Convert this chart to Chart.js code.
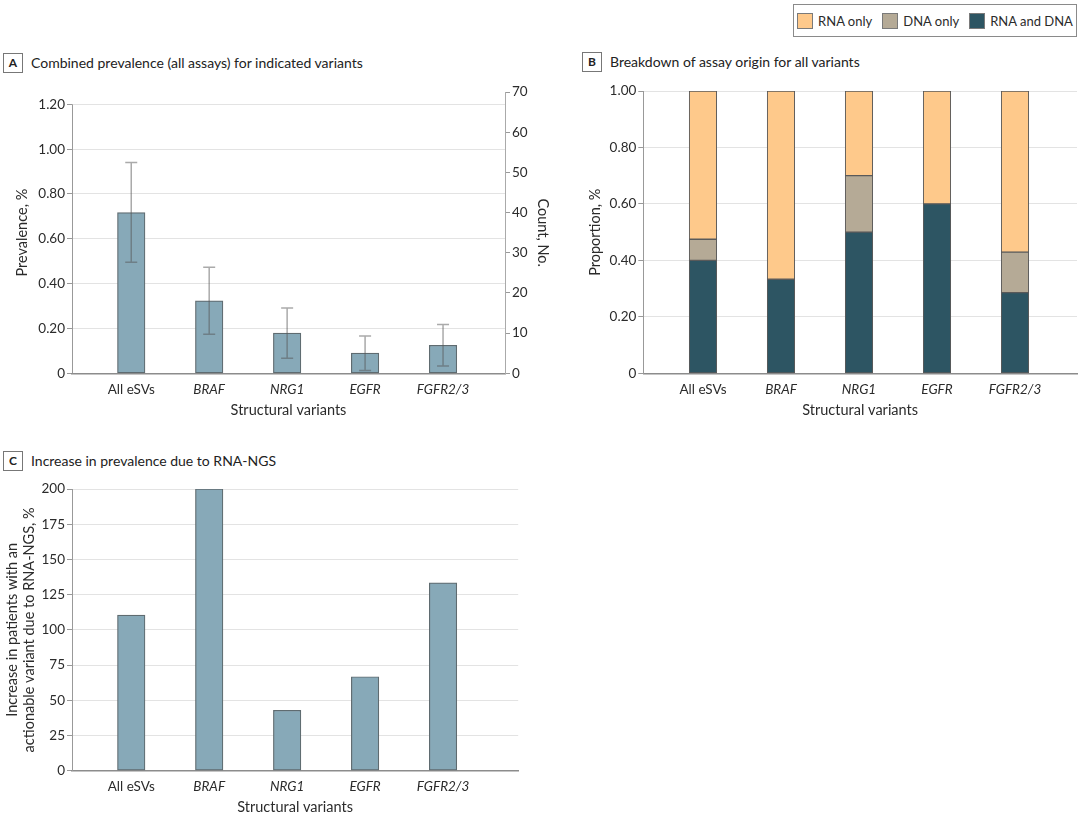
<!DOCTYPE html>
<html>
<head>
<meta charset="utf-8">
<script src="https://cdn.jsdelivr.net/npm/chart.js@4.4.1/dist/chart.umd.min.js"></script>
<style>
  body { margin: 0; background: #fff; width: 1080px; height: 816px; overflow: hidden; position: relative; font-family: Lato, sans-serif; color: #222; }
  canvas { position: absolute; }
  .head { position: absolute; font-size: 14px; line-height: 20px; white-space: nowrap; }
  .head b { display: inline-block; width: 18px; height: 18px; border: 1px solid #777; text-align: center; font-size: 12px; line-height: 18px; margin-right: 8px; vertical-align: top; }
  #legend { position: absolute; left: 793px; top: 4px; width: 282px; height: 31px; border: 1px solid #8a8a8a; display: flex; align-items: center; justify-content: center; font-size: 13px; white-space: nowrap; color: #2b2b2b; }
  #legend span.sw { display: inline-block; flex: none; width: 14px; height: 14px; border: 1px solid #7a7a7a; margin-right: 5px; }
  #legend span.it { display: flex; align-items: center; margin: 0 5px; }
</style>
</head>
<body>
<div class="head" style="left:3px;top:53px"><b>A</b>Combined prevalence (all assays) for indicated variants</div>
<div class="head" style="left:582px;top:52px"><b>B</b>Breakdown of assay origin for all variants</div>
<div class="head" style="left:3px;top:451px"><b>C</b>Increase in prevalence due to RNA-NGS</div>
<div id="legend"></div>
<canvas id="chart-a" width="560" height="419" style="left:0;top:0"></canvas>
<canvas id="chart-b" width="540" height="419" style="left:540px;top:0"></canvas>
<canvas id="chart-c" width="540" height="386" style="left:0;top:430px"></canvas>
<script>
const categories = ['All eSVs', 'BRAF', 'NRG1', 'EGFR', 'FGFR2/3']

// panel A: prevalence, % with 95% CI
const prevalence = [0.717, 0.323, 0.179, 0.090, 0.125]
const prevalenceLow = [0.495, 0.174, 0.067, 0.012, 0.033]
const prevalenceHigh = [0.941, 0.473, 0.291, 0.166, 0.218]
const prevalenceTicks = [0, 0.2, 0.4, 0.6, 0.8, 1.0, 1.2]
const countTicks = [0, 10, 20, 30, 40, 50, 60, 70]

// panel B: proportion by assay origin
const rnaAndDna = [0.400, 0.333, 0.500, 0.600, 0.286]
const dnaOnly = [0.075, 0, 0.200, 0, 0.143]
const rnaOnly = [0.525, 0.667, 0.300, 0.400, 0.571]
const proportionTicks = [0, 0.2, 0.4, 0.6, 0.8, 1.0]

// panel C: increase due to RNA-NGS, %
const increase = [110.5, 200, 42.9, 66.7, 133.3]
const increaseTicks = [0, 25, 50, 75, 100, 125, 150, 175, 200]

const legendLabels = ['RNA only', 'DNA only', 'RNA and DNA']
const legendColors = ['#fec98b', '#b5aa96', '#2d5563']

Chart.defaults.font.family = 'Lato, sans-serif'
Chart.defaults.color = '#2b2b2b'

const barFill = '#87a9b8'
const barLine = '#5f6b70'
const textColor = '#2b2b2b'

const points = values => values.map((v, i) => ({ x: i, y: v }))
const decimals = v => v === 0 ? '0' : v.toFixed(2)

function xAxis (min, max, height) {
  return {
    type: 'linear',
    min,
    max,
    offset: false,
    afterBuildTicks: s => { s.ticks = categories.map((c, i) => ({ value: i })) },
    afterFit: s => { s.height = height },
    grid: { display: false, drawTicks: false, offset: false },
    border: { color: '#8c8c8c', width: 1.5 },
    ticks: {
      padding: 8,
      color: textColor,
      font: c => ({ size: 13.5, style: c.index === 0 ? 'normal' : 'italic' }),
      callback: v => categories[v]
    },
    title: { display: true, text: 'Structural variants', color: textColor, font: { size: 14.5 }, padding: { top: 4, bottom: 0 } }
  }
}

function yAxis (tickValues, max, format, width, title, titlePad) {
  return {
    type: 'linear',
    min: 0,
    max,
    afterBuildTicks: s => { s.ticks = tickValues.map(v => ({ value: v })) },
    afterFit: s => { s.width = width },
    grid: { color: '#e3e3e3', tickColor: '#999', tickLength: 5 },
    border: { color: '#999' },
    ticks: { padding: 2, color: textColor, font: { size: 13.5 }, callback: format },
    title: { display: true, text: title, color: textColor, font: { size: 14.5 }, padding: { top: titlePad, bottom: 0 } }
  }
}

// axis line of panel A stops at the last prevalence tick
const leftLine = {
  id: 'leftLine',
  afterDraw (chart) {
    const { ctx, scales: { y } } = chart
    ctx.save()
    ctx.strokeStyle = '#999'
    ctx.lineWidth = 1
    ctx.beginPath()
    ctx.moveTo(y.right + 0.5, y.getPixelForValue(1.2))
    ctx.lineTo(y.right + 0.5, y.getPixelForValue(0))
    ctx.stroke()
    ctx.restore()
  }
}

const errorBars = {
  id: 'errorBars',
  afterDatasetsDraw (chart) {
    const { ctx, scales: { x, y } } = chart
    ctx.save()
    ctx.strokeStyle = 'rgba(85, 85, 85, 0.5)'
    ctx.lineWidth = 1.5
    prevalence.forEach((v, i) => {
      const px = x.getPixelForValue(i)
      const top = y.getPixelForValue(prevalenceHigh[i])
      const bottom = y.getPixelForValue(prevalenceLow[i])
      ctx.beginPath()
      ctx.moveTo(px, top)
      ctx.lineTo(px, bottom)
      ctx.moveTo(px - 6, top)
      ctx.lineTo(px + 6, top)
      ctx.moveTo(px - 6, bottom)
      ctx.lineTo(px + 6, bottom)
      ctx.stroke()
    })
    ctx.restore()
  }
}

const common = {
  responsive: false,
  animation: false,
  plugins: { legend: { display: false }, tooltip: { enabled: false } }
}

new Chart(document.getElementById('chart-a'), {
  type: 'bar',
  data: {
    datasets: [{
      data: points(prevalence),
      backgroundColor: barFill,
      borderColor: barLine,
      borderWidth: 1.2,
      borderSkipped: false,
      barThickness: 27.5
    }]
  },
  options: {
    ...common,
    layout: { padding: { top: 92, right: 0, left: 0, bottom: 0 } },
    scales: {
      x: xAxis(-0.76, 4.795, 45.7),
      y: { ...yAxis(prevalenceTicks, 1.255, decimals, 72, 'Prevalence, %', 14), border: { display: false } },
      count: {
        position: 'right',
        type: 'linear',
        min: 0,
        max: 70,
        afterBuildTicks: s => { s.ticks = countTicks.map(v => ({ value: v })) },
        afterFit: s => { s.width = 55 },
        grid: { drawOnChartArea: false, tickColor: '#999', tickLength: 5 },
        border: { color: '#aaa' },
        ticks: { padding: 2, color: textColor, font: { size: 13.5 } },
        title: { display: true, text: 'Count, No.', color: textColor, font: { size: 14.5 }, padding: { top: 9, bottom: 0 } }
      }
    }
  },
  plugins: [leftLine, errorBars]
})

const stackOrder = [rnaAndDna, dnaOnly, rnaOnly]
const stackNames = ['RNA and DNA', 'DNA only', 'RNA only']

new Chart(document.getElementById('chart-b'), {
  type: 'bar',
  data: {
    datasets: stackOrder.map((values, k) => ({
      label: stackNames[k],
      data: points(values),
      backgroundColor: legendColors[legendLabels.indexOf(stackNames[k])],
      borderColor: '#5a5a5a',
      borderWidth: 1,
      borderSkipped: false,
      barThickness: 27.5
    }))
  },
  options: {
    ...common,
    layout: { padding: { top: 91, right: 3, left: 0, bottom: 0 } },
    scales: {
      x: { ...xAxis(-0.765, 4.795, 45.7), stacked: true },
      y: { ...yAxis(proportionTicks, 1, decimals, 103.3, 'Proportion, %', 46.5), stacked: true }
    }
  }
})

new Chart(document.getElementById('chart-c'), {
  type: 'bar',
  data: {
    datasets: [{
      data: points(increase),
      backgroundColor: barFill,
      borderColor: barLine,
      borderWidth: 1.2,
      borderSkipped: false,
      barThickness: 27.5
    }]
  },
  options: {
    ...common,
    layout: { padding: { top: 59, right: 21.8, left: 0, bottom: 0 } },
    scales: {
      x: xAxis(-0.76, 4.964, 45.3),
      y: yAxis(increaseTicks, 200, v => String(v), 72,
        ['Increase in patients with an', 'actionable variant due to RNA-NGS, %'], 3.6)
    }
  }
})

// html legend built from the series names and colours
const legend = document.getElementById('legend')
legendLabels.forEach((name, i) => {
  const item = document.createElement('span')
  item.className = 'it'
  item.innerHTML = '<span class="sw" style="background:' + legendColors[i] + '"></span>' + name
  legend.appendChild(item)
})
</script>
</body>
</html>
